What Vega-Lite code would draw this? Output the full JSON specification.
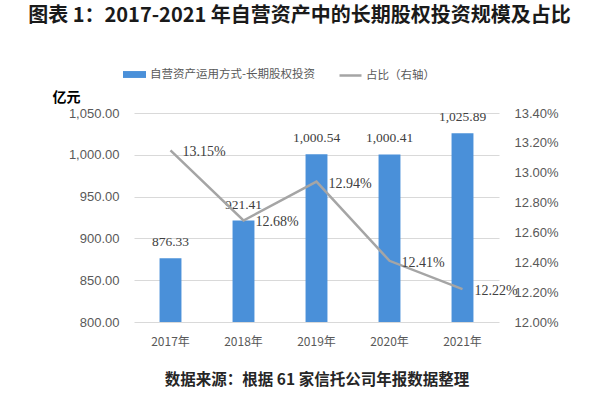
{
  "$schema": "https://vega.github.io/schema/vega-lite/v6.json",
  "autosize": "none",
  "width": 365,
  "height": 209,
  "padding": {"left": 134, "top": 113, "right": 101, "bottom": 83},
  "background": "white",
  "title": {
    "text": "图表 1：2017-2021 年自营资产中的长期股权投资规模及占比",
    "font": "Noto Sans CJK SC",
    "fontSize": 20,
    "fontWeight": "bold",
    "color": "#1a1a1a",
    "anchor": "middle",
    "frame": "group",
    "dx": -17,
    "offset": 37
  },
  "config": {
    "view": {"stroke": null},
    "font": "Noto Sans CJK SC"
  },
  "data": {
    "values": [
      {"year": "2017年", "amount": 876.33, "share": 0.1315},
      {"year": "2018年", "amount": 921.41, "share": 0.1268},
      {"year": "2019年", "amount": 1000.54, "share": 0.1294},
      {"year": "2020年", "amount": 1000.41, "share": 0.1241},
      {"year": "2021年", "amount": 1025.89, "share": 0.1222}
    ]
  },
  "encoding": {
    "x": {
      "field": "year",
      "type": "ordinal",
      "scale": {"paddingInner": 0.7, "paddingOuter": 0.35},
      "axis": {
        "title": "数据来源：根据 61 家信托公司年报数据整理",
        "titleFont": "Noto Sans CJK SC",
        "titleFontSize": 15.5,
        "titleFontWeight": "bold",
        "titleColor": "#262626",
        "titlePadding": 25,
        "labelAngle": 0,
        "labelFont": "Noto Sans CJK SC",
        "labelFontSize": 12,
        "labelColor": "#595959",
        "labelPadding": 14,
        "domain": false,
        "ticks": false
      }
    }
  },
  "layer": [
    {
      "encoding": {
        "y": {
          "field": "amount",
          "type": "quantitative",
          "scale": {"domain": [800, 1050], "zero": false, "nice": false},
          "axis": {
            "title": "亿元",
            "titleAngle": 0,
            "titleAlign": "center",
            "titleBaseline": "middle",
            "titleX": -68,
            "titleY": -16,
            "titleFont": "Noto Sans CJK SC",
            "titleFontSize": 14,
            "titleFontWeight": "bold",
            "titleColor": "#000000",
            "values": [800, 850, 900, 950, 1000, 1050],
            "format": ",.2f",
            "labelFont": "Liberation Sans",
            "labelFontSize": 13,
            "labelColor": "#595959",
            "labelPadding": 15,
            "labelOverlap": false,
            "grid": true,
            "gridColor": "#D9D9D9",
            "domain": false,
            "ticks": false
          }
        }
      },
      "layer": [
        {
          "mark": {"type": "bar", "color": "#4A90D9"},
          "encoding": {
            "y2": {"datum": 800},
            "fill": {
              "datum": "自营资产运用方式-长期股权投资",
              "type": "nominal",
              "scale": {"range": ["#4A90D9"]},
              "legend": {
                "title": null,
                "orient": "none",
                "legendX": -11,
                "legendY": -50,
                "symbolType": "M-1,-0.3L1,-0.3L1,0.3L-1,0.3Z",
                "symbolSize": 529,
                "symbolStrokeWidth": 0,
                "labelFont": "Noto Sans CJK SC",
                "labelFontSize": 11.5,
                "labelColor": "#595959",
                "labelOffset": 4,
                "labelLimit": 400
              }
            }
          }
        },
        {
          "mark": {"type": "text", "font": "Liberation Serif", "fontSize": 13.5, "color": "#404040", "baseline": "middle", "dy": -16},
          "encoding": {
            "text": {"field": "amount", "type": "quantitative", "format": ",.2f"}
          }
        }
      ]
    },
    {
      "encoding": {
        "y": {
          "field": "share",
          "type": "quantitative",
          "scale": {"domain": [0.12, 0.134], "zero": false, "nice": false},
          "axis": {
            "title": null,
            "orient": "right",
            "values": [0.12, 0.122, 0.124, 0.126, 0.128, 0.13, 0.132, 0.134],
            "format": ".2%",
            "labelFont": "Liberation Sans",
            "labelFontSize": 13,
            "labelColor": "#595959",
            "labelPadding": 15,
            "labelOverlap": false,
            "grid": false,
            "domain": false,
            "ticks": false
          }
        }
      },
      "layer": [
        {
          "mark": {"type": "line", "strokeWidth": 2.5},
          "encoding": {
            "stroke": {
              "datum": "占比（右轴）",
              "type": "nominal",
              "scale": {"range": ["#A5A5A5"]},
              "legend": {
                "title": null,
                "orient": "none",
                "legendX": 204,
                "legendY": -50,
                "symbolType": "stroke",
                "symbolSize": 484,
                "symbolStrokeWidth": 2.5,
                "labelFont": "Noto Sans CJK SC",
                "labelFontSize": 11.5,
                "labelColor": "#595959",
                "labelOffset": 3,
                "labelLimit": 400
              }
            }
          }
        },
        {
          "mark": {"type": "text", "font": "Liberation Serif", "fontSize": 14, "color": "#404040", "align": "left", "baseline": "middle", "dx": 12, "dy": 2},
          "encoding": {
            "text": {"field": "share", "type": "quantitative", "format": ".2%"}
          }
        }
      ]
    }
  ],
  "resolve": {"scale": {"y": "independent"}}
}
